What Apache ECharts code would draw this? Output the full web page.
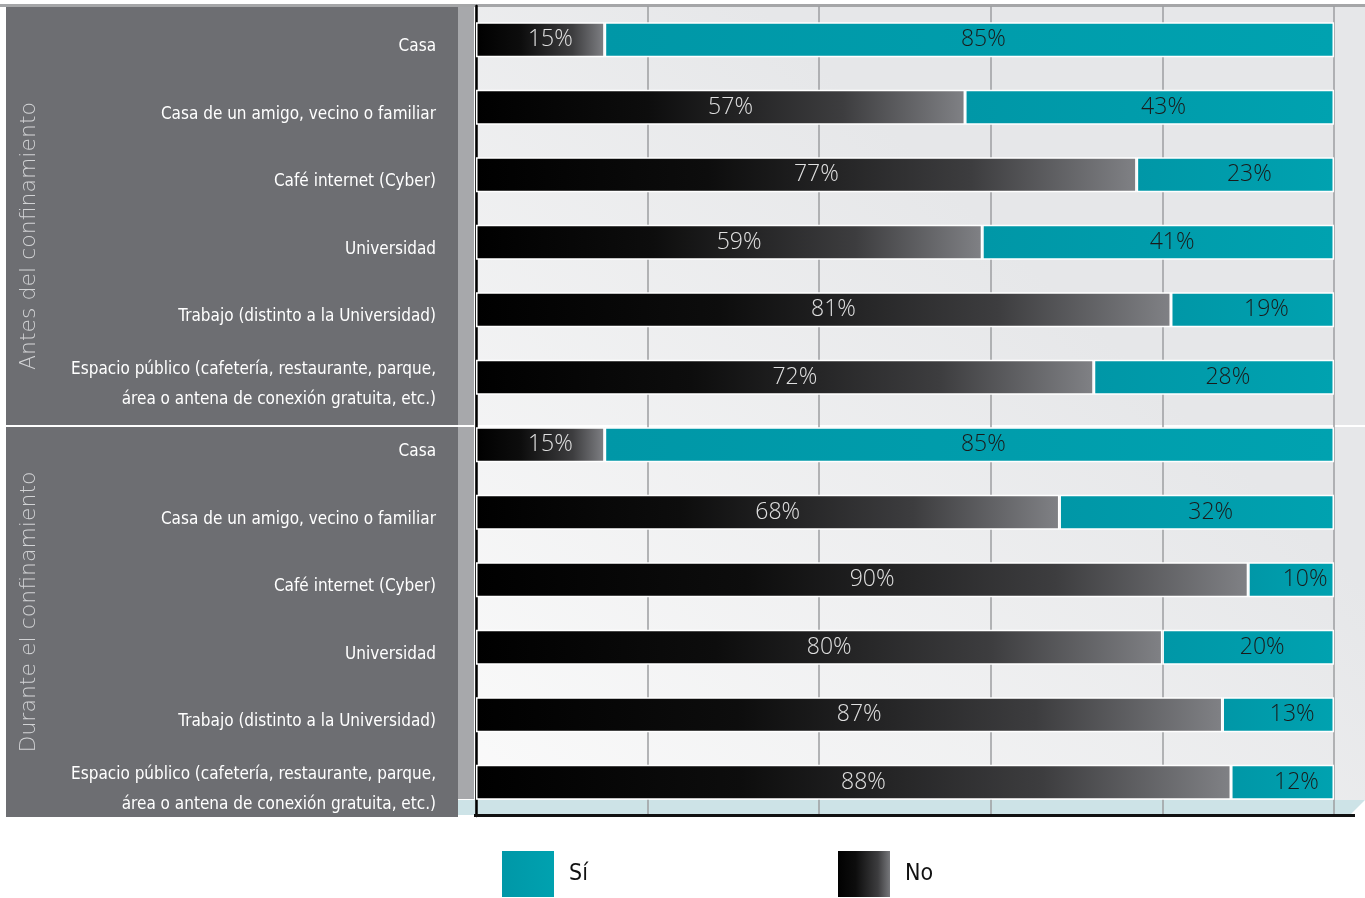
<!DOCTYPE html>
<html>
<head>
<meta charset="utf-8">
<script src="https://cdn.jsdelivr.net/npm/echarts@6/dist/echarts.min.js"></script>
<style>
html,body{margin:0;padding:0;background:#fff;}
#chart{width:1365px;height:898px;}
</style>
</head>
<body>
<div id="chart"></div>
<script>
// ---- data ----
var categories = [
  'Casa',
  'Casa de un amigo, vecino o familiar',
  'Café internet (Cyber)',
  'Universidad',
  'Trabajo (distinto a la Universidad)',
  'Espacio público (cafetería, restaurante, parque,\nárea o antena de conexión gratuita, etc.)',
  'Casa',
  'Casa de un amigo, vecino o familiar',
  'Café internet (Cyber)',
  'Universidad',
  'Trabajo (distinto a la Universidad)',
  'Espacio público (cafetería, restaurante, parque,\nárea o antena de conexión gratuita, etc.)'
];
var noValues = [15, 57, 77, 59, 81, 72, 15, 68, 90, 80, 87, 88];
var siValues = [85, 43, 23, 41, 19, 28, 85, 32, 10, 20, 13, 12];
var groupTitles = ['Antes del confinamiento', 'Durante el confinamiento'];
var seriesNames = ['No', 'Sí'];

// ---- chart ----
var chart = echarts.init(document.getElementById('chart'), null, {renderer: 'canvas'});
var G = echarts.graphic;
var condensed = '"Liberation Sans Narrow", "DejaVu Sans Condensed", "Arial Narrow", sans-serif';

var noGradient = new G.LinearGradient(0, 0, 1, 0, [
  {offset: 0, color: '#000000'},
  {offset: 0.35, color: '#0d0d0d'},
  {offset: 0.75, color: '#3d3d3f'},
  {offset: 1, color: '#808185'}
]);
var siGradient = new G.LinearGradient(0, 0, 1, 0, [
  {offset: 0, color: '#0097a7'},
  {offset: 1, color: '#00a2b0'}
]);

var option = {
  animation: false,
  backgroundColor: '#ffffff',
  grid: {left: 476, right: 31, top: 6, bottom: 82, containLabel: false},
  xAxis: {
    type: 'value', min: 0, max: 100, interval: 20,
    axisLine: {show: false},
    axisTick: {show: false},
    axisLabel: {show: false},
    splitLine: {show: true, lineStyle: {color: '#9d9ea0', width: 1.5}}
  },
  yAxis: {
    type: 'category', inverse: true, data: categories,
    axisLine: {show: true, onZero: false, lineStyle: {color: '#000', width: 2.5}},
    axisTick: {show: false},
    splitLine: {show: false},
    axisLabel: {
      color: '#ffffff', fontFamily: condensed, fontSize: 17, lineHeight: 30,
      align: 'right', margin: 40,
      formatter: function (v) { return '{s| }\n' + v; },
      rich: {s: {lineHeight: 14, fontSize: 10}}
    }
  },
  legend: [
    {data: ['Sí'], left: 500, top: 849, padding: 0, itemWidth: 54, itemHeight: 48, icon: 'rect',
     textStyle: {fontFamily: condensed, fontSize: 23, color: '#111', padding: [0, 0, 0, 9]}},
    {data: ['No'], left: 836, top: 849, padding: 0, itemWidth: 54, itemHeight: 48, icon: 'rect',
     textStyle: {fontFamily: condensed, fontSize: 23, color: '#111', padding: [0, 0, 0, 9]}}
  ],
  series: [
    {
      name: seriesNames[0], type: 'bar', stack: 'total', data: noValues, barWidth: 35,
      itemStyle: {color: noGradient, borderColor: '#ffffff', borderWidth: 1.5},
      label: {show: true, position: 'inside', offset: [10, 0], formatter: '{c}%',
              fontFamily: '"Open Sans", sans-serif', fontWeight: 300, fontSize: 23, color: '#e0e0e0'}
    },
    {
      name: seriesNames[1], type: 'bar', stack: 'total', data: siValues, barWidth: 35,
      itemStyle: {color: siGradient, borderColor: '#ffffff', borderWidth: 1.5},
      label: {show: true, position: 'inside', offset: [14, 0], formatter: '{c}%',
              fontFamily: '"Open Sans", sans-serif', fontWeight: 300, fontSize: 23, color: '#1a1a1a'}
    }
  ],
  graphic: [
    // plot background
    {type: 'rect', z: -10, silent: true, shape: {x: 476, y: 7, width: 889, height: 793},
     style: {fill: new G.LinearGradient(0, 1, 0.6, 0.3, [
       {offset: 0, color: '#fafafa'}, {offset: 1, color: '#e6e7e9'}])}},
    // bottom blue strip
    {type: 'polygon', z: -9, silent: true, shape: {points: [[458, 800], [1365, 800], [1350, 815], [458, 815]]},
     style: {fill: '#cde3e7'}},
    // left panel
    {type: 'rect', z: -8, silent: true, shape: {x: 6, y: 7, width: 452, height: 810}, style: {fill: '#6d6e72'}},
    {type: 'rect', z: -8, silent: true, shape: {x: 458, y: 7, width: 16, height: 792}, style: {fill: '#a7a8ab'}},
    // top line
    {type: 'rect', z: -7, silent: true, shape: {x: 0, y: 4, width: 1365, height: 3}, style: {fill: '#a5a6a8'}},
    // separator
    {type: 'rect', z: -7, silent: true, shape: {x: 6, y: 425, width: 1359, height: 2}, style: {fill: '#ffffff'}},
    // bottom axis line
    {type: 'rect', z: 5, silent: true, shape: {x: 474, y: 814, width: 881, height: 3}, style: {fill: '#111111'}},
    // group titles
    {type: 'text', z: 5, silent: true, x: 29, y: 236, rotation: Math.PI / 2,
     style: {text: groupTitles[0], fill: '#d2d3d5', font: '200 22px "DejaVu Sans", sans-serif',
             align: 'center', verticalAlign: 'middle'}},
    {type: 'text', z: 5, silent: true, x: 29, y: 612, rotation: Math.PI / 2,
     style: {text: groupTitles[1], fill: '#d2d3d5', font: '200 22px "DejaVu Sans", sans-serif',
             align: 'center', verticalAlign: 'middle'}}
  ]
};
chart.setOption(option);
</script>
</body>
</html>
